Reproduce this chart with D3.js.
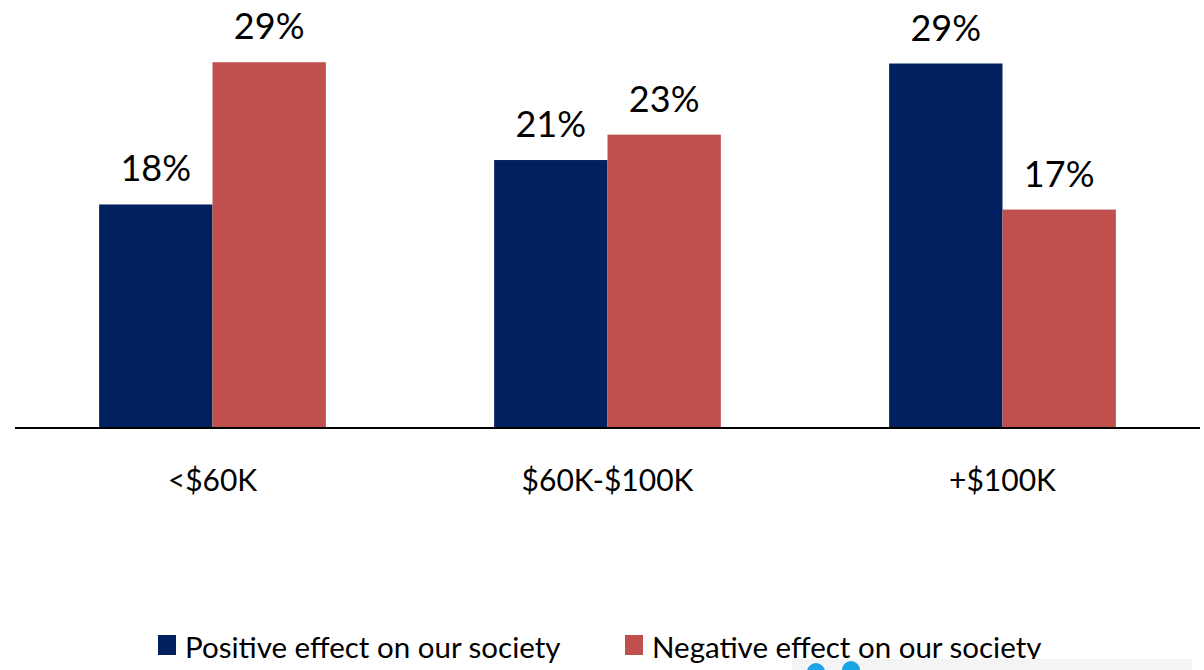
<!DOCTYPE html>
<html>
<head>
<meta charset="utf-8">
<script src="https://cdn.jsdelivr.net/npm/d3@7/dist/d3.min.js"></script>
<style>
  html, body { margin: 0; padding: 0; background: #fff; }
  svg { display: block; font-family: Lato, "Open Sans", sans-serif; }
</style>
</head>
<body>
<svg id="chart" width="1204" height="670"></svg>
<script>
const categories = ["<$60K", "$60K-$100K", "+$100K"];
const seriesNames = ["Positive effect on our society", "Negative effect on our society"];
const positive = [17.6, 21.1, 28.7];
const negative = [28.8, 23.1, 17.2];
const colors = ["#002060", "#C0504D"];

const svg = d3.select("#chart");
const baseY = 428;

const x = d3.scaleBand().domain(categories).range([15, 1200]).paddingInner(0.426).paddingOuter(0.213);
const xs = d3.scaleBand().domain([0, 1]).range([0, x.bandwidth()]);
const y = d3.scaleLinear().domain([0, 30]).range([baseY, baseY - 30 * 12.7]);

const data = categories.map((c, i) => ({ cat: c, vals: [positive[i], negative[i]] }));

const g = svg.selectAll("g.grp").data(data).join("g")
  .attr("class", "grp")
  .attr("transform", d => `translate(${x(d.cat)},0)`);

g.selectAll("rect").data(d => d.vals).join("rect")
  .attr("x", (v, j) => xs(j))
  .attr("width", xs.bandwidth())
  .attr("y", v => y(v))
  .attr("height", v => baseY - y(v))
  .attr("fill", (v, j) => colors[j]);

g.selectAll("text.val").data(d => d.vals).join("text")
  .attr("class", "val")
  .attr("x", (v, j) => xs(j) + xs.bandwidth() / 2)
  .attr("y", v => y(v) - 23)
  .attr("text-anchor", "middle")
  .attr("font-size", 36)
  .attr("fill", "#000")
  .text(v => Math.round(v) + "%");

// axis
const axis = svg.append("g").attr("transform", `translate(0,${baseY})`)
  .call(d3.axisBottom(x).tickSize(0).tickPadding(0));
axis.select(".domain").attr("stroke", "#000").attr("stroke-width", 2).attr("d", "M15,0H1200");
axis.selectAll(".tick text")
  .attr("y", 63)
  .attr("dy", 0)
  .attr("font-size", 30)
  .attr("font-family", "Lato, 'Open Sans', sans-serif")
  .attr("fill", "#000");

// legend
const legendX = [158, 625];
const lg = svg.selectAll("g.leg").data(seriesNames).join("g")
  .attr("class", "leg")
  .attr("transform", (d, i) => `translate(${legendX[i]},635)`);
lg.append("rect").attr("width", 18).attr("height", 20).attr("fill", (d, i) => colors[i]);
lg.append("text").attr("x", 27).attr("y", 23).attr("font-size", 29.5).attr("fill", "#000").text(d => d);

// partial logo strip at bottom
svg.append("rect").attr("x", 792).attr("y", 659).attr("width", 400).attr("height", 11).attr("fill", "#f4f4f4");
svg.append("circle").attr("cx", 816).attr("cy", 672).attr("r", 9).attr("fill", "#1aa3e6");
svg.append("circle").attr("cx", 851).attr("cy", 670).attr("r", 9).attr("fill", "#1aa3e6");
</script>
</body>
</html>
